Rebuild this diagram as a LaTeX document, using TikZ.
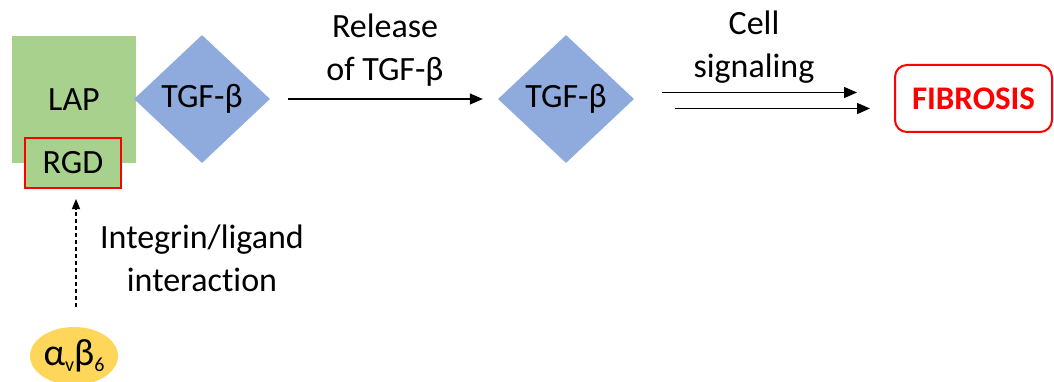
\documentclass[tikz,border=0pt]{standalone}
\usepackage{fontspec}
\setmainfont{Carlito}[Ligatures=NoCommon]
\usetikzlibrary{shapes.geometric,arrows.meta}
\definecolor{lapgreen}{HTML}{A9D18E}
\definecolor{tgfblue}{HTML}{8FAADC}
\definecolor{intyellow}{HTML}{FDD65A}
\definecolor{fibred}{HTML}{FF0000}
\begin{document}
\begin{tikzpicture}[x=1pt,y=-1pt,
  txt/.style={font=\fontsize{34}{43}\selectfont, inner sep=0pt},
  lbl/.style={txt, align=center},
  lapbox/.style={txt, rectangle, fill=lapgreen, minimum width=124pt, minimum height=127pt},
  rgdbox/.style={txt, rectangle, fill=lapgreen, draw=fibred, line width=2pt, minimum width=96pt, minimum height=50pt},
  tgfdia/.style={txt, diamond, fill=tgfblue, minimum width=136pt, minimum height=128pt},
  fibbox/.style={txt, rectangle, rounded corners=12pt, draw=fibred, line width=2pt, text=fibred, font=\fontsize{33}{43}\selectfont\bfseries, minimum width=157pt, minimum height=67pt},
  intell/.style={txt, ellipse, fill=intyellow, minimum width=88pt, minimum height=58pt},
  arr/.style={-{Triangle[length=13pt,width=11pt]}, line width=1.3pt},
  dasharr/.style={-{Triangle[length=10pt,width=8pt]}, line width=1.1pt, dash pattern=on 4pt off 3pt}
]
\useasboundingbox (0,0) rectangle (1054,382);
\node[lapbox] (lap) at (74,99.5) {LAP};
\node[rgdbox] (rgd) at (73,163) {RGD};
\node[tgfdia] (t1) at (202,99) {TGF-β};
\node[tgfdia] (t2) at (566,99) {TGF-β};
\node[fibbox] (fib) at (973.5,98.5) {FIBROSIS};
\node[intell] (int) at (74,356) {\fontsize{38}{38}\selectfont α\raisebox{-0.3ex}{\fontsize{20}{20}\selectfont v}β\raisebox{-0.3ex}{\fontsize{20}{20}\selectfont 6}};
\node[lbl] (rel) at (385,50) {Release\\of TGF-β};
\node[lbl] (cell) at (754,47) {Cell\\signaling};
\node[lbl] (intlig) at (202,258) {Integrin/ligand\\interaction};
\coordinate (s1) at (662,92.5);
\coordinate (e1) at (857,92.5);
\coordinate (s2) at (675,108.5);
\coordinate (e2) at (870,108.5);
\draw[arr, shorten <=18pt, shorten >=15pt] (t1.east) -- (t2.west);
\draw[arr] (s1) -- (e1);
\draw[arr] (s2) -- (e2);
\draw[dasharr, shorten <=20pt, shorten >=10pt] ([xshift=2pt]int.north) -- ([xshift=3pt]rgd.south);
\end{tikzpicture}
\end{document}
